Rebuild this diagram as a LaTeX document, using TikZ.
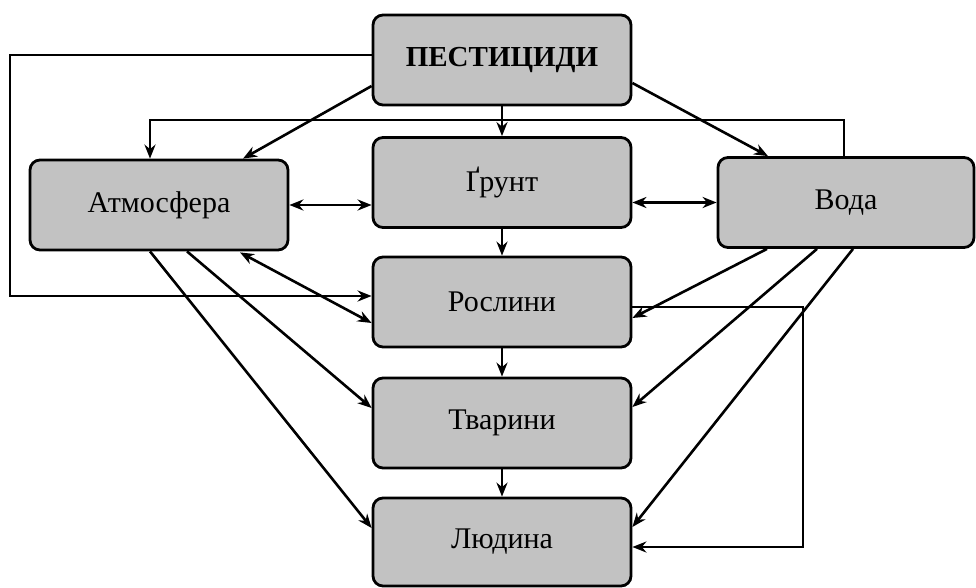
\documentclass[tikz,border=0pt]{standalone}
\usepackage{fontspec}
\setmainfont{Liberation Serif}
\usetikzlibrary{calc,arrows.meta}
\begin{document}
\begin{tikzpicture}[x=1pt,y=-1pt,
  box/.style={draw=black,line width=2.8pt,rounded corners=10pt,fill=black!24,
    minimum width=258pt,minimum height=90pt,inner sep=0pt,font=\fontsize{30}{32}\selectfont},
  conn/.style={line width=2.6pt,-{Stealth[length=14pt,width=11pt]}},
  dconn/.style={line width=2.6pt,{Stealth[length=14pt,width=11pt]}-{Stealth[length=14pt,width=11pt]}}]
\useasboundingbox (0,0) rectangle (976,588);
\node[box,font=\bfseries\fontsize{29}{31}\selectfont] (pest) at (502,60) {ПЕСТИЦИДИ};
\node[box] (grunt) at (502,182.5) {Ґрунт};
\node[box] (atm) at (159,205) {Атмосфера};
\node[box,minimum width=256pt] (voda) at (846,202.5) {Вода};
\node[box] (rosl) at (502,302) {Рослини};
\node[box] (tvar) at (502,423) {Тварини};
\node[box,minimum height=88pt] (lyud) at (502,542) {Людина};
% helper coordinates
\coordinate (lx) at (10,0);
\coordinate (ty) at (0,120);
\coordinate (rx) at (803,0);
\coordinate (p1) at ($(pest.west)+(0,-5)$);
\coordinate (r0) at ($(rosl.west)+(0,-6)$);
\coordinate (v1) at ($(voda.north)+(-2,0)$);
\coordinate (a1) at ($(atm.north)+(-9,0)$);
\coordinate (r1) at ($(rosl.east)+(0,5)$);
\coordinate (l1) at ($(lyud.east)+(0,5)$);
% left loop from pesticides to plants
\draw[conn] (p1) -- (p1 -| lx) -- (r0 -| lx) -- (r0);
% pesticides to atmosphere, soil, water
\draw[conn] ($(pest.west)+(0,26)$) -- ($(atm.north)+(84,0)$);
\draw[conn] (pest.south) -- (grunt.north);
\draw[conn] ($(pest.east)+(0,23)$) -- ($(voda.north)+(-78,0)$);
% top loop water to atmosphere
\draw[conn] (v1) -- (v1 |- ty) -- (a1 |- ty) -- (a1);
% double arrows
\draw[dconn] (atm.east) -- (atm.east -| grunt.west);
\draw[dconn] (voda.west -| grunt.east) -- (voda.west);
% vertical chain
\draw[conn] (grunt.south) -- (rosl.north);
\draw[conn] (rosl.south) -- (tvar.north);
\draw[conn] (tvar.south) -- (lyud.north);
% atmosphere links
\draw[dconn] ($(atm.south)+(81,1)$) -- ($(rosl.west)+(0,21)$);
\draw[conn] ($(atm.south)+(28,0)$) -- ($(tvar.west)+(0,-15)$);
\draw[conn] ($(atm.south)+(-9,0)$) -- ($(lyud.west)+(0,-14)$);
% water links
\draw[conn] ($(voda.south)+(-79,0)$) -- ($(rosl.east)+(0,16)$);
\draw[conn] ($(voda.south)+(-29,0)$) -- ($(tvar.east)+(0,-16)$);
\draw[conn] ($(voda.south)+(7,0)$) -- ($(lyud.east)+(0,-15)$);
% right loop plants to human
\draw[conn] (r1) -- (r1 -| rx) -- (l1 -| rx) -- (l1);
\end{tikzpicture}
\end{document}
